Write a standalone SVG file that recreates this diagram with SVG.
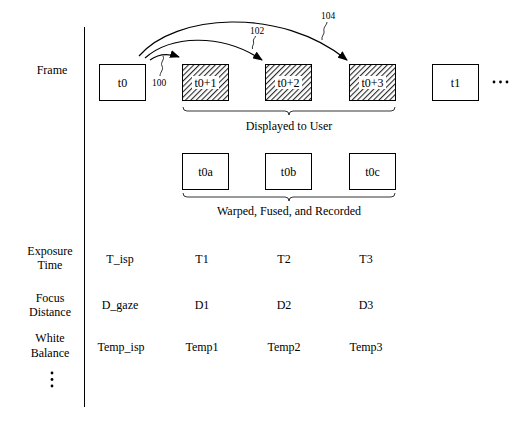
<svg xmlns="http://www.w3.org/2000/svg" width="532" height="439" viewBox="0 0 532 439">
<style>
text{font-size:12px;fill:#000;text-anchor:middle}
.sm{font-size:9.5px}
.box{fill:#fff;stroke:#000;stroke-width:1}
.hbox{fill:url(#hatch);stroke:#000;stroke-width:1}
.line{fill:none;stroke:#000;stroke-width:1.2}
.thin{fill:none;stroke:#000;stroke-width:0.8}
</style>
<defs>
<pattern id="hatch" patternUnits="userSpaceOnUse" width="3.8" height="3.8" patternTransform="rotate(45)">
<rect width="3.8" height="3.8" fill="#fff"/>
<rect x="0" y="0" width="1.1" height="3.8" fill="#2a2a2a"/>
</pattern>
<marker id="ah" markerWidth="10" markerHeight="8" refX="9" refY="4" orient="auto" markerUnits="userSpaceOnUse">
<path d="M0,0 L10,4 L0,8 Z" fill="#000"/>
</marker>
</defs>
<rect width="532" height="439" fill="#fff"/>
<g font-family="Liberation Serif, Times New Roman, serif">
<line x1="84.5" y1="27" x2="84.5" y2="407" stroke="#000" stroke-width="1"/>
<g id="labels">
<text x="52" y="74">Frame</text>
<text x="50" y="255">Exposure</text>
<text x="50" y="269">Time</text>
<text x="50" y="302">Focus</text>
<text x="50" y="316">Distance</text>
<text x="50" y="342">White</text>
<text x="50" y="357">Balance</text>
<circle cx="52" cy="373" r="1.4"/>
<circle cx="52" cy="379.5" r="1.4"/>
<circle cx="52" cy="386" r="1.4"/>
</g>
<g id="t0"><rect class="box" x="99.5" y="64.5" width="46" height="36"/><text x="122.5" y="86.5">t0</text></g>
<g id="t0p1"><rect class="hbox" x="182.5" y="64.5" width="46" height="36"/><rect x="192" y="76" width="27" height="13" fill="#fff"/><text x="205.5" y="86.5">t0+1</text></g>
<g id="t0p2"><rect class="hbox" x="265.5" y="64.5" width="46" height="36"/><rect x="275" y="76" width="27" height="13" fill="#fff"/><text x="288.5" y="86.5">t0+2</text></g>
<g id="t0p3"><rect class="hbox" x="349.5" y="64.5" width="46" height="36"/><rect x="359" y="76" width="27" height="13" fill="#fff"/><text x="372.5" y="86.5">t0+3</text></g>
<g id="t1"><rect class="box" x="432.5" y="64.5" width="46" height="36"/><text x="455.5" y="86.5">t1</text></g>
<g id="more"><circle cx="494" cy="82" r="1.4"/><circle cx="500.5" cy="82" r="1.4"/><circle cx="507" cy="82" r="1.4"/></g>
<g id="t0a"><rect class="box" x="182.5" y="153.5" width="46" height="36"/><text x="205.5" y="175.5">t0a</text></g>
<g id="t0b"><rect class="box" x="265.5" y="153.5" width="46" height="36"/><text x="288.5" y="175.5">t0b</text></g>
<g id="t0c"><rect class="box" x="349.5" y="153.5" width="46" height="36"/><text x="372.5" y="175.5">t0c</text></g>
<g id="brace1"><path class="thin" d="M183,107 q0,4 4,4 H285 q4,0 4,4 q0,-4 4,-4 H391 q4,0 4,-4"/><text x="289" y="129.5">Displayed to User</text></g>
<g id="brace2"><path class="thin" d="M183,193 q0,4 4,4 H285 q4,0 4,4 q0,-4 4,-4 H391 q4,0 4,-4"/><text x="289" y="214.5">Warped, Fused, and Recorded</text></g>
<g id="connectors">
<path class="line" d="M150,60 C158,54 168,53 179,57" marker-end="url(#ah)"/>
<path class="line" d="M145,58 C170,36 220,32 262,60" marker-end="url(#ah)"/>
<path class="line" d="M139,56 C175,14 280,6 347,60" marker-end="url(#ah)"/>
<path class="thin" d="M163,56 c2,4 -3,6 -1,10 c2,4 -2,6 -2,10"/>
<path class="thin" d="M252.5,49 c-1,-3 2,-5 1,-7 c-1,-3 2,-4 2,-6"/>
<path class="thin" d="M322,40 c-1,-4 3,-6 2,-9 c-1,-4 3,-6 3,-9"/>
<text class="sm" x="159" y="86">100</text>
<text class="sm" x="257" y="34">102</text>
<text class="sm" x="328" y="19">104</text>
</g>
<g id="values">
<text x="120" y="263">T_isp</text>
<text x="202" y="263">T1</text>
<text x="284" y="263">T2</text>
<text x="366" y="263">T3</text>
<text x="120" y="309">D_gaze</text>
<text x="202" y="309">D1</text>
<text x="284" y="309">D2</text>
<text x="366" y="309">D3</text>
<text x="121" y="351">Temp_isp</text>
<text x="202" y="351">Temp1</text>
<text x="284" y="351">Temp2</text>
<text x="366" y="351">Temp3</text>
</g>
</g>
</svg>
